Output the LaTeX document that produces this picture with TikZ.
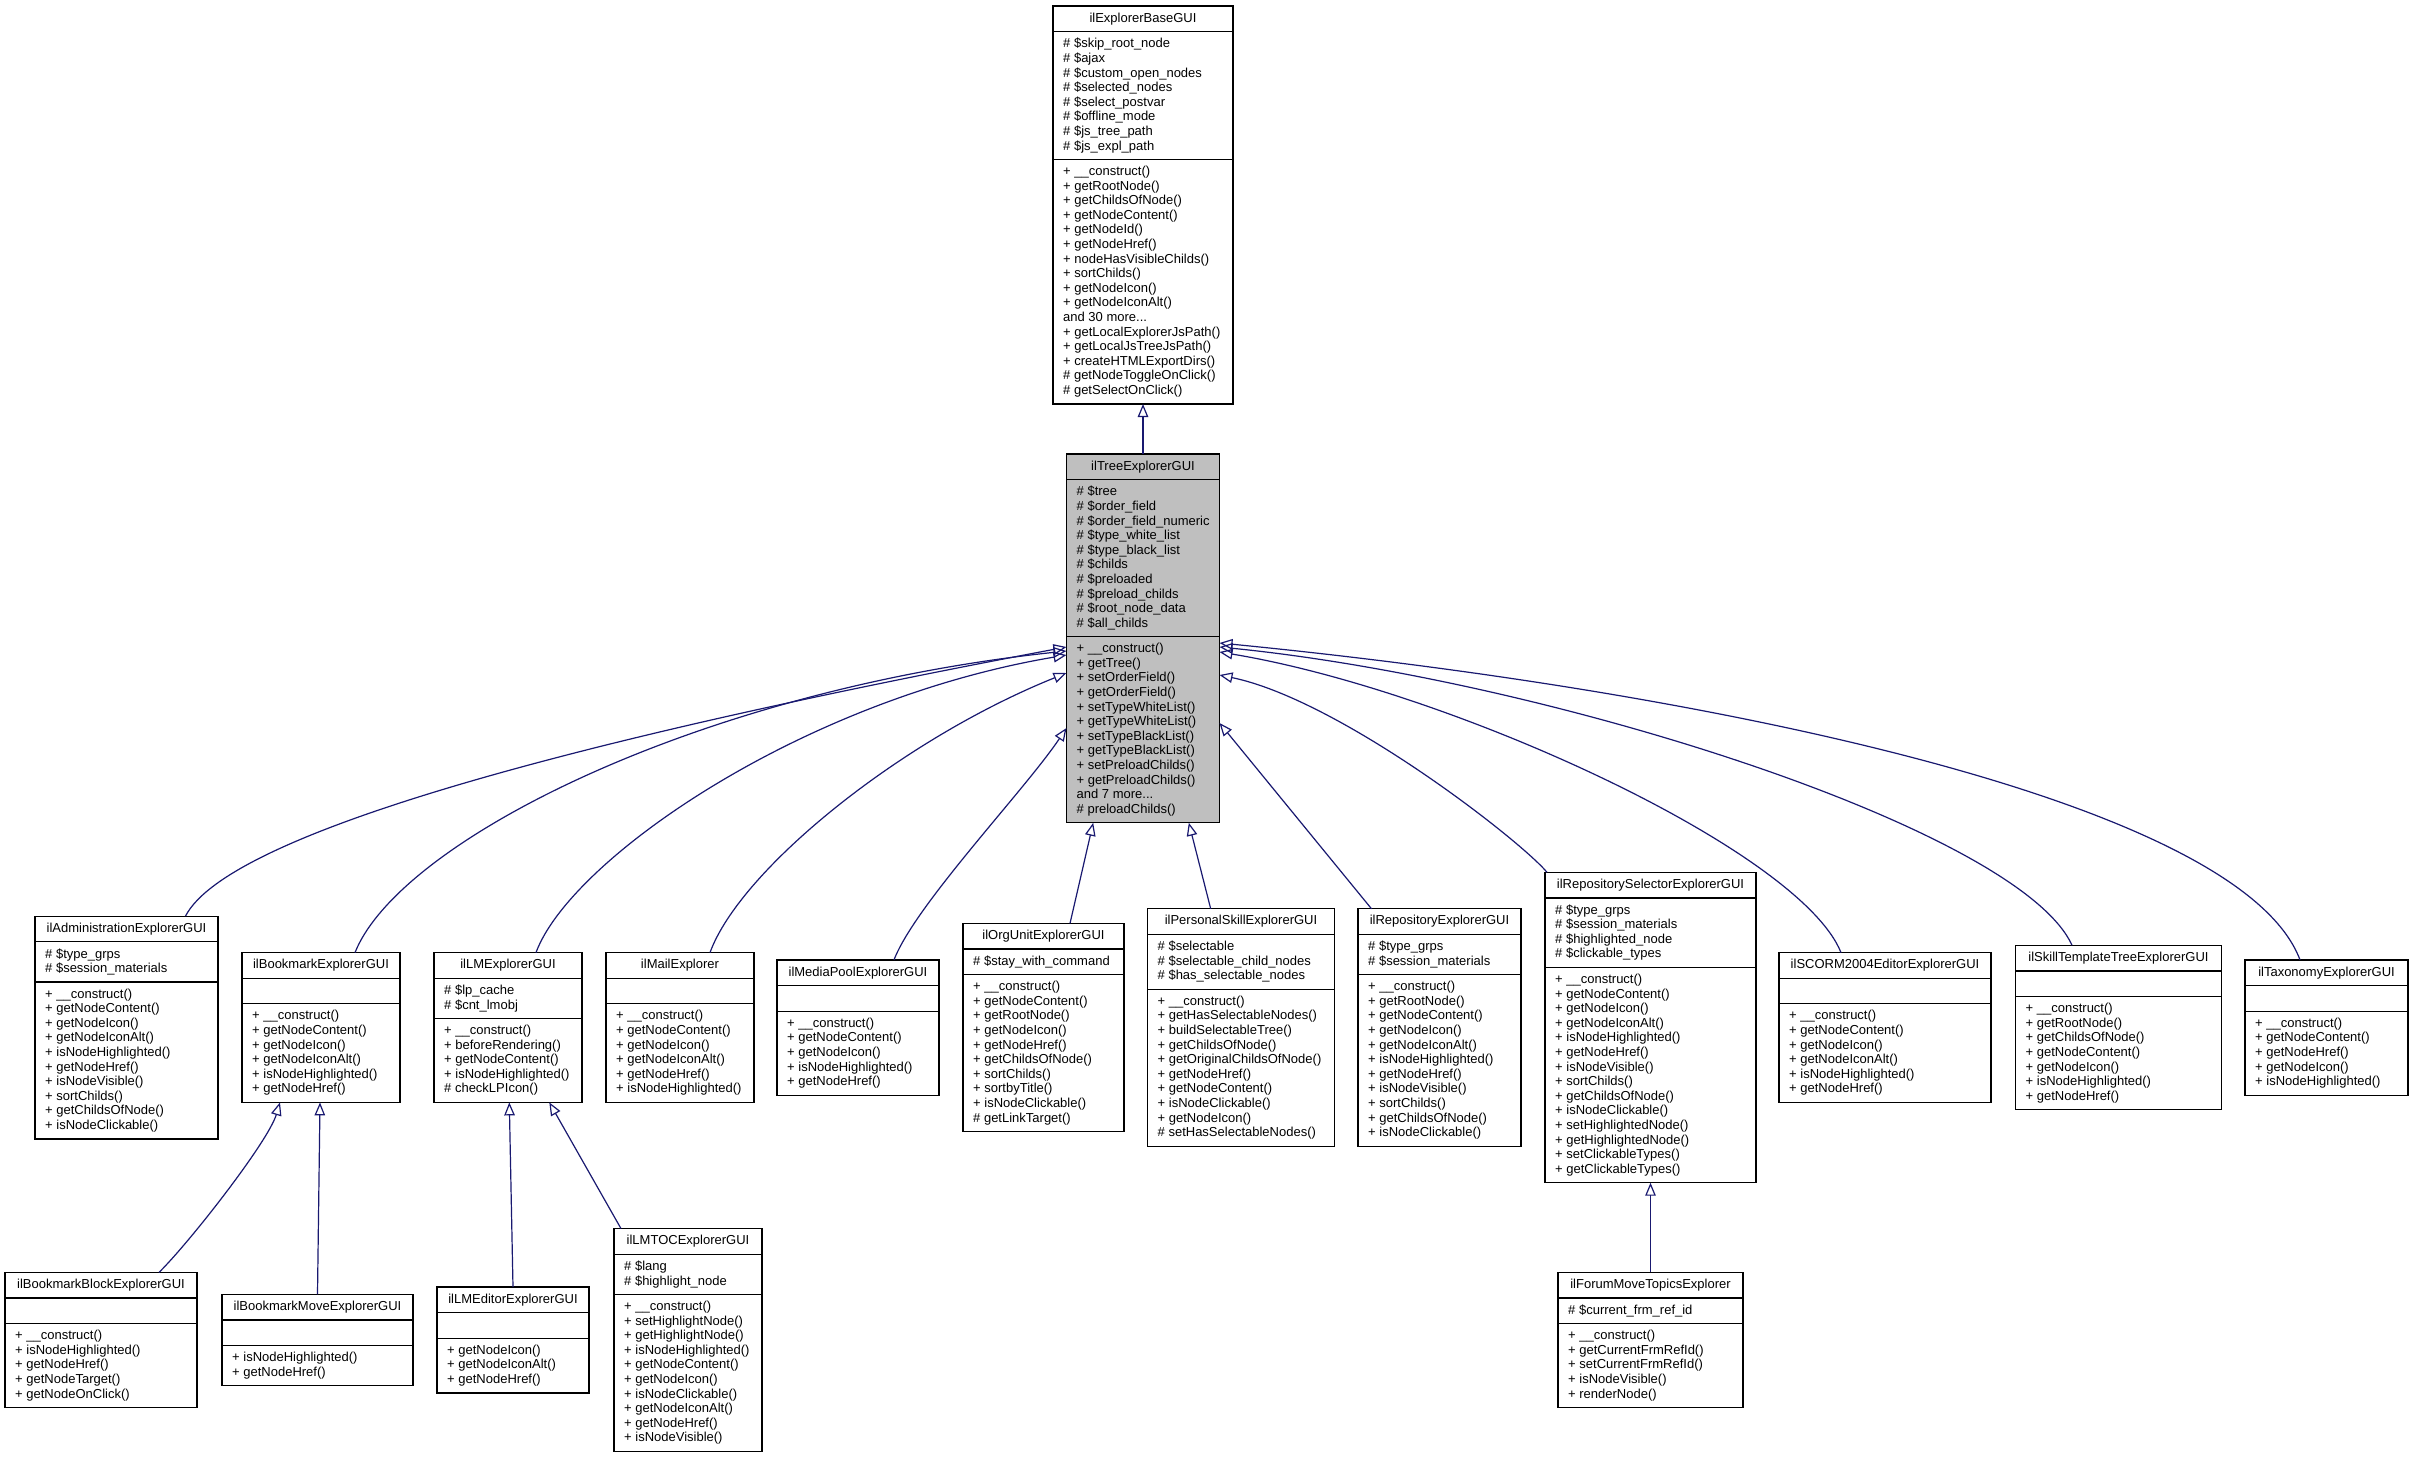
\documentclass[tikz,border=0pt]{standalone}
\usepackage{fontspec}
\setmainfont{Liberation Sans}
\usetikzlibrary{arrows.meta}
\definecolor{edgeblue}{RGB}{25,25,112}
\definecolor{treegray}{RGB}{191,191,191}
\tikzset{
  classnode/.style={draw=black, line width=1.2pt, inner sep=0pt, outer sep=0pt, rectangle},
  boxline/.style={draw=black, line width=1.2pt},
  titletext/.style={font=\fontsize{13pt}{14.6pt}\selectfont, inner sep=0pt, anchor=center},
  membertext/.style={font=\fontsize{13pt}{14.6pt}\selectfont, inner sep=0pt, anchor=west, align=left},
  inherit/.style={draw=edgeblue, line width=1.2pt, line join=miter, -{Triangle[open, length=13pt, width=10.5pt]}}
}
% #1 name, #2 center, #3 width, #4 fill, #5 title, #6 n attr lines, #7 attrs, #8 n method lines, #9 methods
\newcommand\classbox[9]{%
  \pgfmathsetmacro\hA{#6*14.6+11}%
  \pgfmathsetmacro\hM{#8*14.6+11}%
  \pgfmathsetmacro\hT{25.6+\hA+\hM}%
  \pgfmathsetmacro\yB{-25.6-\hA}%
  \pgfmathsetmacro\yAc{-25.6-\hA/2}%
  \pgfmathsetmacro\yMc{-25.6-\hA-\hM/2}%
  \node[classnode, fill=#4, minimum width=#3pt, minimum height=\hT pt] (#1) at #2 {};
  \draw[boxline] ([yshift=-25.6pt]#1.north west) -- ([yshift=-25.6pt]#1.north east);
  \draw[boxline] ([yshift=\yB pt]#1.north west) -- ([yshift=\yB pt]#1.north east);
  \node[titletext] at ([yshift=-12.8pt]#1.north) {#5};
  \node[membertext] at ([xshift=10pt, yshift=\yAc pt]#1.north west) {#7};
  \node[membertext] at ([xshift=10pt, yshift=\yMc pt]#1.north west) {#9};
}
\begin{document}
\begin{tikzpicture}[x=1pt, y=-1pt]
\useasboundingbox[fill=white] (0,0) rectangle (2413,1461);

\classbox{top}{(1143,205)}{180}{white}{ilExplorerBaseGUI}{8}{%
\# \$skip\_root\_node\\\# \$ajax\\\# \$custom\_open\_nodes\\\# \$selected\_nodes\\\# \$select\_postvar\\\# \$offline\_mode\\\# \$js\_tree\_path\\\# \$js\_expl\_path}{16}{%
+ \_\_construct()\\+ getRootNode()\\+ getChildsOfNode()\\+ getNodeContent()\\+ getNodeId()\\+ getNodeHref()\\+ nodeHasVisibleChilds()\\+ sortChilds()\\+ getNodeIcon()\\+ getNodeIconAlt()\\and 30 more...\\+ getLocalExplorerJsPath()\\+ getLocalJsTreeJsPath()\\+ createHTMLExportDirs()\\\# getNodeToggleOnClick()\\\# getSelectOnClick()}

\classbox{tree}{(1143,638.4)}{153}{treegray}{ilTreeExplorerGUI}{10}{%
\# \$tree\\\# \$order\_field\\\# \$order\_field\_numeric\\\# \$type\_white\_list\\\# \$type\_black\_list\\\# \$childs\\\# \$preloaded\\\# \$preload\_childs\\\# \$root\_node\_data\\\# \$all\_childs}{12}{%
+ \_\_construct()\\+ getTree()\\+ setOrderField()\\+ getOrderField()\\+ setTypeWhiteList()\\+ getTypeWhiteList()\\+ setTypeBlackList()\\+ getTypeBlackList()\\+ setPreloadChilds()\\+ getPreloadChilds()\\and 7 more...\\\# preloadChilds()}

\classbox{admin}{(126.5,1027.5)}{183}{white}{ilAdministrationExplorerGUI}{2}{%
\# \$type\_grps\\\# \$session\_materials}{10}{%
+ \_\_construct()\\+ getNodeContent()\\+ getNodeIcon()\\+ getNodeIconAlt()\\+ isNodeHighlighted()\\+ getNodeHref()\\+ isNodeVisible()\\+ sortChilds()\\+ getChildsOfNode()\\+ isNodeClickable()}

\classbox{bookmark}{(321,1027.5)}{158}{white}{ilBookmarkExplorerGUI}{1}{}{6}{%
+ \_\_construct()\\+ getNodeContent()\\+ getNodeIcon()\\+ getNodeIconAlt()\\+ isNodeHighlighted()\\+ getNodeHref()}

\classbox{lmexp}{(508,1027.5)}{148}{white}{ilLMExplorerGUI}{2}{%
\# \$lp\_cache\\\# \$cnt\_lmobj}{5}{%
+ \_\_construct()\\+ beforeRendering()\\+ getNodeContent()\\+ isNodeHighlighted()\\\# checkLPIcon()}

\classbox{mail}{(680,1027.5)}{148}{white}{ilMailExplorer}{1}{}{6}{%
+ \_\_construct()\\+ getNodeContent()\\+ getNodeIcon()\\+ getNodeIconAlt()\\+ getNodeHref()\\+ isNodeHighlighted()}

\classbox{mediapool}{(858,1027.5)}{162}{white}{ilMediaPoolExplorerGUI}{1}{}{5}{%
+ \_\_construct()\\+ getNodeContent()\\+ getNodeIcon()\\+ isNodeHighlighted()\\+ getNodeHref()}

\classbox{orgunit}{(1043.5,1027.5)}{161}{white}{ilOrgUnitExplorerGUI}{1}{%
\# \$stay\_with\_command}{10}{%
+ \_\_construct()\\+ getNodeContent()\\+ getRootNode()\\+ getNodeIcon()\\+ getNodeHref()\\+ getChildsOfNode()\\+ sortChilds()\\+ sortbyTitle()\\+ isNodeClickable()\\\# getLinkTarget()}

\classbox{pskill}{(1241,1027.5)}{187}{white}{ilPersonalSkillExplorerGUI}{3}{%
\# \$selectable\\\# \$selectable\_child\_nodes\\\# \$has\_selectable\_nodes}{10}{%
+ \_\_construct()\\+ getHasSelectableNodes()\\+ buildSelectableTree()\\+ getChildsOfNode()\\+ getOriginalChildsOfNode()\\+ getNodeHref()\\+ getNodeContent()\\+ isNodeClickable()\\+ getNodeIcon()\\\# setHasSelectableNodes()}

\classbox{repo}{(1439.5,1027.5)}{163}{white}{ilRepositoryExplorerGUI}{2}{%
\# \$type\_grps\\\# \$session\_materials}{11}{%
+ \_\_construct()\\+ getRootNode()\\+ getNodeContent()\\+ getNodeIcon()\\+ getNodeIconAlt()\\+ isNodeHighlighted()\\+ getNodeHref()\\+ isNodeVisible()\\+ sortChilds()\\+ getChildsOfNode()\\+ isNodeClickable()}

\classbox{reposel}{(1650.5,1027.5)}{211}{white}{ilRepositorySelectorExplorerGUI}{4}{%
\# \$type\_grps\\\# \$session\_materials\\\# \$highlighted\_node\\\# \$clickable\_types}{14}{%
+ \_\_construct()\\+ getNodeContent()\\+ getNodeIcon()\\+ getNodeIconAlt()\\+ isNodeHighlighted()\\+ getNodeHref()\\+ isNodeVisible()\\+ sortChilds()\\+ getChildsOfNode()\\+ isNodeClickable()\\+ setHighlightedNode()\\+ getHighlightedNode()\\+ setClickableTypes()\\+ getClickableTypes()}

\classbox{scorm}{(1885,1027.5)}{212}{white}{ilSCORM2004EditorExplorerGUI}{1}{}{6}{%
+ \_\_construct()\\+ getNodeContent()\\+ getNodeIcon()\\+ getNodeIconAlt()\\+ isNodeHighlighted()\\+ getNodeHref()}

\classbox{skilltpl}{(2118.5,1027.5)}{206}{white}{ilSkillTemplateTreeExplorerGUI}{1}{}{7}{%
+ \_\_construct()\\+ getRootNode()\\+ getChildsOfNode()\\+ getNodeContent()\\+ getNodeIcon()\\+ isNodeHighlighted()\\+ getNodeHref()}

\classbox{taxo}{(2326.5,1027.5)}{163}{white}{ilTaxonomyExplorerGUI}{1}{}{5}{%
+ \_\_construct()\\+ getNodeContent()\\+ getNodeHref()\\+ getNodeIcon()\\+ isNodeHighlighted()}

\classbox{bmblock}{(101,1340)}{192}{white}{ilBookmarkBlockExplorerGUI}{1}{}{5}{%
+ \_\_construct()\\+ isNodeHighlighted()\\+ getNodeHref()\\+ getNodeTarget()\\+ getNodeOnClick()}

\classbox{bmmove}{(317.5,1340)}{191}{white}{ilBookmarkMoveExplorerGUI}{1}{}{2}{%
+ isNodeHighlighted()\\+ getNodeHref()}

\classbox{lmeditor}{(513,1340)}{152}{white}{ilLMEditorExplorerGUI}{1}{}{3}{%
+ getNodeIcon()\\+ getNodeIconAlt()\\+ getNodeHref()}

\classbox{lmtoc}{(688,1340)}{148}{white}{ilLMTOCExplorerGUI}{2}{%
\# \$lang\\\# \$highlight\_node}{10}{%
+ \_\_construct()\\+ setHighlightNode()\\+ getHighlightNode()\\+ isNodeHighlighted()\\+ getNodeContent()\\+ getNodeIcon()\\+ isNodeClickable()\\+ getNodeIconAlt()\\+ getNodeHref()\\+ isNodeVisible()}

\classbox{forum}{(1650.5,1340)}{185}{white}{ilForumMoveTopicsExplorer}{1}{%
\# \$current\_frm\_ref\_id}{5}{%
+ \_\_construct()\\+ getCurrentFrmRefId()\\+ setCurrentFrmRefId()\\+ isNodeVisible()\\+ renderNode()}

% inheritance edges
\draw[inherit] (tree.north) -- (top.south);

\draw[inherit] ([xshift=59pt]admin.north) .. controls (230,830) and (600,735) .. ([yshift=-8.6pt]tree.west);
\draw[inherit] ([xshift=34pt]bookmark.north) .. controls (400,840) and (700,690) .. ([yshift=-12.6pt]tree.west);
\draw[inherit] ([xshift=28pt]lmexp.north) .. controls (570,860) and (800,700) .. ([yshift=-16.6pt]tree.west);
\draw[inherit] ([xshift=30pt]mail.north) .. controls (740,870) and (900,740) .. ([yshift=-34.6pt]tree.west);
\draw[inherit] ([xshift=36pt]mediapool.north) .. controls (915,905) and (1025,790) .. ([yshift=-89.6pt]tree.west);
\draw[inherit] ([xshift=26.5pt]orgunit.north) -- ([xshift=-49.8pt]tree.south);
\draw[inherit] ([xshift=-30.3pt]pskill.north) -- ([xshift=45.8pt]tree.south);
\draw[inherit] ([xshift=-68pt]repo.north) -- ([yshift=-84.6pt]tree.east);
\draw[inherit] ([xshift=-103.5pt]reposel.north) .. controls (1520,840) and (1340,700) .. ([yshift=-36.6pt]tree.east);
\draw[inherit] ([xshift=-44pt]scorm.north) .. controls (1800,850) and (1450,690) .. ([yshift=-13.6pt]tree.east);
\draw[inherit] ([xshift=-46.5pt]skilltpl.north) .. controls (2020,830) and (1550,680) .. ([yshift=-8.6pt]tree.east);
\draw[inherit] ([xshift=-26.5pt]taxo.north) .. controls (2240,800) and (1700,690) .. ([yshift=-4.6pt]tree.east);

\draw[inherit] ([xshift=58pt]bmblock.north) .. controls (189,1243) and (268,1142) .. ([xshift=-41pt]bookmark.south);
\draw[inherit] (bmmove.north) -- ([xshift=-1pt]bookmark.south);
\draw[inherit] (lmeditor.north) -- ([xshift=1.3pt]lmexp.south);
\draw[inherit] ([xshift=-67pt]lmtoc.north) -- ([xshift=41.3pt]lmexp.south);
\draw[inherit] (forum.north) -- (reposel.south);
\end{tikzpicture}
\end{document}
